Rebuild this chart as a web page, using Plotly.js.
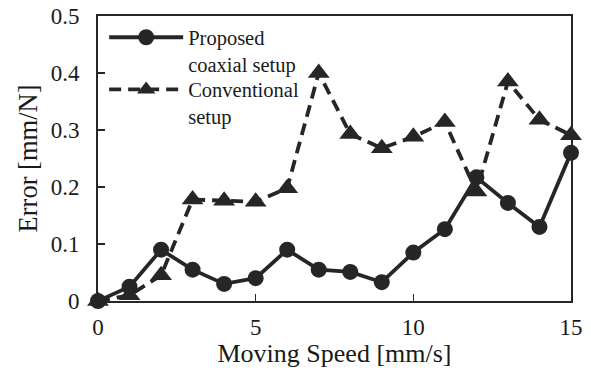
<!DOCTYPE html>
<html><head><meta charset="utf-8">
<script src="https://cdn.plot.ly/plotly-3.0.1.min.js"></script>
<style>body{margin:0;background:#fff}#c{width:591px;height:368px}</style>
</head><body><div id="c"></div>
<script>
const speed = [0,1,2,3,4,5,6,7,8,9,10,11,12,13,14,15];
const proposed = [0,0.025,0.09,0.055,0.03,0.04,0.09,0.055,0.051,0.033,0.085,0.126,0.217,0.172,0.13,0.26];
const conventional = [0,0.01,0.045,0.178,0.176,0.174,0.198,0.4,0.293,0.268,0.288,0.314,0.192,0.385,0.318,0.291];
const seriesNames = ['Proposed<br>coaxial setup','Conventional<br>setup'];
const xTicks = [0,5,10,15];
const yTicks = [0,0.1,0.2,0.3,0.4,0.5];
const yTickText = ['0','0.1','0.2','0.3','0.4','0.5'];

const col = '#262626';
const fam = '"Liberation Serif", "Times New Roman", serif';
const font = {family:fam, color:'#1a1a1a', size:23};
const legFont = {family:fam, size:20.5, color:'#1a1a1a'};
const traces = [
  {x:speed, y:proposed, name:seriesNames[0], mode:'lines+markers', type:'scatter', legend:'legend',
   line:{color:col, width:3.8}, marker:{symbol:'circle', size:16, color:col}, cliponaxis:false},
  {x:speed, y:conventional, name:seriesNames[1], mode:'lines+markers', type:'scatter', legend:'legend2',
   line:{color:col, width:3.8, dash:'12px,7px'}, marker:{symbol:'triangle-up', size:19, color:col}, cliponaxis:false}
];
const layout = {
  width:591, height:368,
  margin:{l:98, r:20, t:16, b:67},
  paper_bgcolor:'#fff', plot_bgcolor:'#fff',
  font:font,
  showlegend:true,
  legend:{x:0.013, y:0.995, xanchor:'left', yanchor:'top', bgcolor:'rgba(0,0,0,0)',
          font:legFont, itemwidth:74, valign:'top'},
  legend2:{x:0.013, y:0.812, xanchor:'left', yanchor:'top', bgcolor:'rgba(0,0,0,0)',
          font:legFont, itemwidth:74, valign:'top'},
  xaxis:{range:[0,15], tickvals:xTicks, ticktext:xTicks.map(String), ticks:'inside', ticklen:7, tickwidth:1.5,
         tickcolor:col, showline:true, linecolor:col, linewidth:2, mirror:true, showgrid:false, zeroline:false,
         ticklabelstandoff:4,
         title:{text:'Moving Speed [mm/s]', font:{family:fam, size:26, color:'#1a1a1a'}, standoff:4}},
  yaxis:{range:[0,0.5], tickvals:yTicks, ticktext:yTickText, ticks:'inside', ticklen:7, tickwidth:1.5,
         tickcolor:col, showline:true, linecolor:col, linewidth:2, mirror:true, showgrid:false, zeroline:false,
         ticklabelstandoff:12,
         title:{text:'Error [mm/N]', font:{family:fam, size:26.5, color:'#1a1a1a'}, standoff:5}}
};
Plotly.newPlot('c', traces, layout, {displayModeBar:false, staticPlot:true});
</script></body></html>
